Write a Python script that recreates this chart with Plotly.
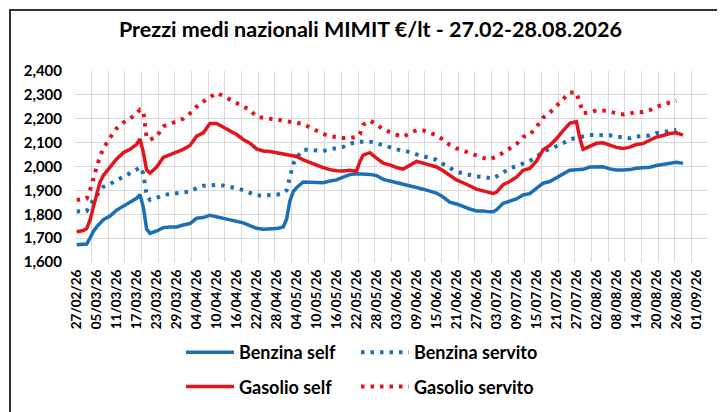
import plotly.graph_objects as go
from datetime import date, datetime, timedelta

START = date(2026, 2, 27)

DAYS = [0, 2, 3, 4, 5, 6, 7, 8, 10, 12,
        14, 16, 18, 19, 20, 21, 22, 24, 26, 28,
        30, 32, 34, 36, 38, 40, 42, 44, 46, 48,
        50, 52, 54, 56, 58, 60, 62, 63, 64, 65,
        66, 68, 70, 72, 74, 76, 78, 80, 82, 84,
        85, 86, 88, 90, 92, 94, 96, 98, 100, 102,
        104, 106, 108, 110, 112, 114, 116, 118, 120, 122,
        124, 125, 126, 128, 130, 132, 134, 136, 138, 140,
        142, 144, 146, 148, 150, 151, 152, 154, 156, 158,
        160, 162, 164, 166, 168, 170, 172, 174, 176, 178,
        180, 182]

BENZINA_SELF = [1672, 1673, 1675, 1700, 1728, 1747, 1763, 1777, 1792, 1817,
                1834, 1849, 1867, 1882, 1830, 1738, 1720, 1730, 1744, 1747,
                1747, 1755, 1761, 1783, 1786, 1796, 1790, 1784, 1778, 1772,
                1764, 1752, 1741, 1737, 1737, 1740, 1747, 1779, 1856, 1895,
                1911, 1935, 1934, 1932, 1932, 1939, 1944, 1955, 1966, 1970,
                1970, 1970, 1967, 1962, 1946, 1939, 1933, 1926, 1919, 1912,
                1905, 1898, 1889, 1872, 1851, 1843, 1832, 1822, 1814, 1814,
                1810, 1810, 1818, 1846, 1855, 1864, 1881, 1886, 1908, 1930,
                1937, 1952, 1970, 1984, 1986, 1987, 1988, 1998, 2000, 1999,
                1990, 1985, 1985, 1987, 1993, 1995, 1997, 2004, 2009, 2012,
                2018, 2013]

BENZINA_SERVITO = [1812, 1812, 1813, 1840, 1860, 1878, 1898, 1915, 1927, 1943,
                   1960, 1972, 1987, 1998, 1970, 1880, 1860, 1868, 1881, 1884,
                   1887, 1890, 1895, 1910, 1919, 1921, 1923, 1920, 1916, 1909,
                   1901, 1890, 1879, 1878, 1879, 1882, 1888, 1900, 1955, 2010,
                   2038, 2070, 2070, 2068, 2065, 2072, 2078, 2082, 2096, 2103,
                   2104, 2104, 2104, 2097, 2088, 2080, 2072, 2066, 2061, 2051,
                   2043, 2035, 2028, 2010, 1993, 1978, 1971, 1963, 1958, 1956,
                   1951, 1949, 1958, 1975, 1992, 2002, 2012, 2023, 2040, 2062,
                   2073, 2083, 2097, 2114, 2122, 2124, 2126, 2132, 2132, 2132,
                   2131, 2126, 2121, 2118, 2126, 2128, 2130, 2140, 2144, 2148,
                   2153, None]

GASOLIO_SELF = [1727, 1732, 1740, 1775, 1830, 1885, 1935, 1962, 1995, 2032,
                2058, 2072, 2093, 2115, 2060, 1985, 1972, 1998, 2038, 2049,
                2058, 2072, 2088, 2127, 2141, 2180, 2180, 2166, 2152, 2134,
                2113, 2098, 2074, 2065, 2063, 2058, 2052, 2051, 2049, 2047,
                2042, 2028, 2016, 2006, 1995, 1987, 1982, 1981, 1984, 1980,
                2020, 2048, 2058, 2035, 2014, 2007, 1996, 1989, 2005, 2021,
                2014, 2006, 1998, 1982, 1963, 1944, 1932, 1918, 1905, 1898,
                1891, 1887, 1892, 1924, 1937, 1955, 1984, 1992, 2022, 2070,
                2088, 2116, 2150, 2181, 2188, 2120, 2072, 2085, 2097, 2099,
                2089, 2080, 2075, 2081, 2092, 2096, 2110, 2123, 2130, 2138,
                2141, 2131]

GASOLIO_SERVITO = [1860, 1862, 1865, 1900, 1955, 1998, 2042, 2075, 2120, 2160,
                   2184, 2200, 2222, 2238, 2232, 2120, 2112, 2125, 2168, 2178,
                   2186, 2200, 2222, 2250, 2272, 2292, 2308, 2295, 2281, 2268,
                   2252, 2237, 2208, 2202, 2200, 2197, 2192, 2190, 2189, 2188,
                   2186, 2178, 2164, 2150, 2137, 2127, 2121, 2119, 2119, 2124,
                   2135, 2175, 2192, 2177, 2155, 2142, 2133, 2125, 2137, 2152,
                   2151, 2142, 2131, 2112, 2090, 2076, 2066, 2052, 2043, 2036,
                   2030, 2034, 2042, 2058, 2078, 2094, 2124, 2133, 2165, 2205,
                   2225, 2252, 2282, 2310, 2310, 2270, 2224, 2226, 2235, 2235,
                   2228, 2222, 2218, 2222, 2228, 2228, 2236, 2250, 2260, 2268,
                   2275, None]

TICK_LABELS = ["27/02/26", "05/03/26", "11/03/26", "17/03/26", "23/03/26", "29/03/26",
               "04/04/26", "10/04/26", "16/04/26", "22/04/26", "28/04/26", "04/05/26",
               "10/05/26", "16/05/26", "22/05/26", "28/05/26", "03/06/26", "09/06/26",
               "15/06/26", "21/06/26", "27/06/26", "03/07/26", "09/07/26", "15/07/26",
               "21/07/26", "27/07/26", "02/08/26", "08/08/26", "14/08/26", "20/08/26",
               "26/08/26", "01/09/26"]

Y_TICKS = [1600, 1700, 1800, 1900, 2000, 2100, 2200, 2300, 2400]

TITLE = "Prezzi medi nazionali MIMIT €/lt - 27.02-28.08.2026"

for s in (BENZINA_SELF, BENZINA_SERVITO, GASOLIO_SELF, GASOLIO_SERVITO):
    if len(s) != len(DAYS):
        raise ValueError("length mismatch %d vs %d" % (len(s), len(DAYS)))

dates = [(START + timedelta(days=d)).isoformat() for d in DAYS]
tickvals = [datetime.strptime(t, "%d/%m/%y").date().isoformat() for t in TICK_LABELS]

BLUE = "#1B6FB5"
RED = "#E3141B"
FONT = "Lato"
DOT = "3.5px,6px"

fig = go.Figure()
fig.add_trace(go.Scatter(x=dates, y=BENZINA_SELF, name="Benzina self", mode="lines",
                         line=dict(color=BLUE, width=3.5), legend="legend", legendgroup="bs"))
fig.add_trace(go.Scatter(x=dates, y=BENZINA_SERVITO, name="Benzina servito", mode="lines",
                         line=dict(color=BLUE, width=4, dash=DOT), legend="legend2",
                         legendgroup="bv"))
fig.add_trace(go.Scatter(x=dates, y=GASOLIO_SELF, name="Gasolio self", mode="lines",
                         line=dict(color=RED, width=3.5), legend="legend", legendgroup="gs"))
fig.add_trace(go.Scatter(x=dates, y=GASOLIO_SERVITO, name="Gasolio servito", mode="lines",
                         line=dict(color=RED, width=4, dash=DOT), legend="legend2",
                         legendgroup="gv"))

L, R, T, B = 67, 25, 63, 158
W, H = 725, 412
pw, ph = W - L - R, H - T - B

def px_x(p):
    return (p - L) / pw

def px_y(p):
    return (H - B - p) / ph

legend_font = dict(family=FONT, size=18, color="black", weight="bold")

fig.update_layout(
    width=W, height=H,
    margin=dict(l=L, r=R, t=T, b=B),
    paper_bgcolor="white", plot_bgcolor="white",
    title=dict(text="<b>" + TITLE + "</b>", x=0.5, xanchor="center", xref="container",
               y=1 - 21 / H, yanchor="middle", yref="container",
               font=dict(family=FONT, size=21.5, color="black", weight="bold")),
    xaxis=dict(type="date",
               range=["2026-02-26 12:00", "2026-09-04 12:00"],
               tickmode="array", tickvals=tickvals, ticktext=TICK_LABELS,
               tickangle=-90, showgrid=False, zeroline=False, showline=False,
               ticks="", ticklabelstandoff=4,
               tickfont=dict(family=FONT, size=13.5, color="black", weight="bold"),
               minor=dict(dtick=5 * 86400000, tick0="2026-02-26 12:00", showgrid=True,
                          gridcolor="#d9d9d9", gridwidth=1, ticks="")),
    yaxis=dict(range=[1600, 2400], tickmode="array", tickvals=Y_TICKS,
               tickformat=",d", showgrid=True, gridcolor="#d9d9d9", gridwidth=1,
               zeroline=False, showline=False, ticks="", ticklabelstandoff=12,
               tickfont=dict(family=FONT, size=15, color="black", weight="bold")),
    legend=dict(x=px_x(173), y=px_y(326), xanchor="left", yanchor="top",
                font=legend_font, itemwidth=48, tracegroupgap=8,
                bgcolor="rgba(0,0,0,0)"),
    legend2=dict(x=px_x(348), y=px_y(326), xanchor="left", yanchor="top",
                 font=legend_font, itemwidth=48, tracegroupgap=8,
                 bgcolor="rgba(0,0,0,0)"),
    shapes=[dict(type="rect", xref="paper", yref="paper",
                 x0=px_x(2), x1=px_x(722), y0=px_y(409), y1=px_y(2),
                 line=dict(color="#333333", width=2), fillcolor="rgba(0,0,0,0)",
                 layer="below")],
)

fig.write_html("out.html")
